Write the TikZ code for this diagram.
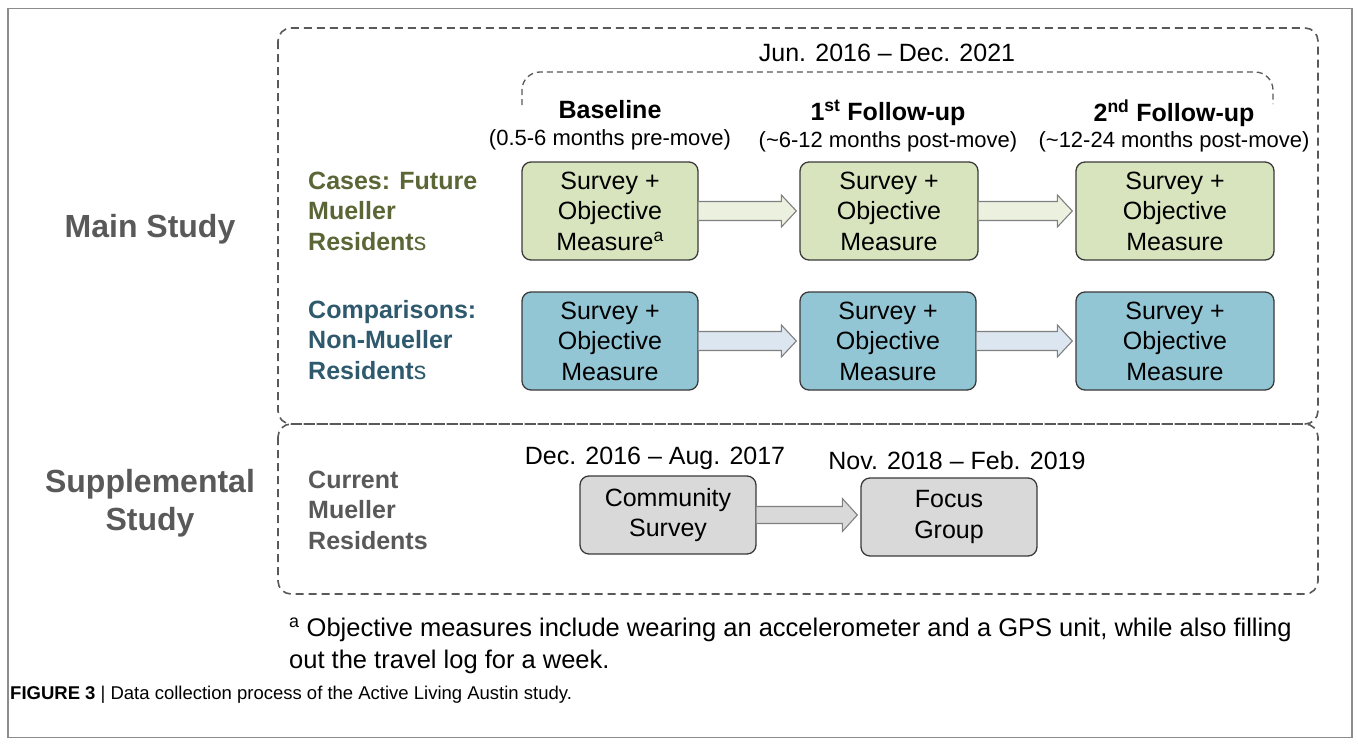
\documentclass[tikz,border=0pt]{standalone}
\usepackage{fontspec}
\setmainfont{Liberation Sans}
\usetikzlibrary{calc}
\definecolor{framegray}{HTML}{8C8C8C}
\definecolor{dashgray}{HTML}{595959}
\definecolor{boxborder}{HTML}{3A3A3A}
\definecolor{greenfill}{HTML}{D7E4BD}
\definecolor{bluefill}{HTML}{93C6D5}
\definecolor{grayfill}{HTML}{D9D9D9}
\definecolor{greenarrow}{HTML}{EBF1DE}
\definecolor{bluearrow}{HTML}{DCE6F0}
\definecolor{grayarrow}{HTML}{D9D9D9}
\definecolor{arrowborder}{HTML}{808080}
\definecolor{olivetext}{HTML}{5A6636}
\definecolor{tealtext}{HTML}{2F5A6E}
\definecolor{graytext}{HTML}{595959}
\newcommand{\blockarr}[5]{%
  \path let \p1=(#1.east), \p2=(#2.west) in
    [fill=#3] (\x1,\y1+#4) -- (\x2-18pt,\y1+#4) -- (\x2-18pt,\y1+#5) -- (\x2-3pt,\y1)
    -- (\x2-18pt,\y1-#5) -- (\x2-18pt,\y1-#4) -- (\x1,\y1-#4) -- cycle;
  \path let \p1=(#1.east), \p2=(#2.west) in
    [draw=arrowborder, line width=1.1pt, line join=miter] (\x1,\y1+#4) -- (\x2-18pt,\y1+#4) -- (\x2-18pt,\y1+#5) -- (\x2-3pt,\y1)
    -- (\x2-18pt,\y1-#5) -- (\x2-18pt,\y1-#4) -- (\x1,\y1-#4);
}
\begin{document}
\begin{tikzpicture}[x=1pt,y=-1pt,
  dashrect/.style={draw=dashgray, line width=1.6pt, dash pattern=on 8pt off 5pt, rounded corners=13pt},
  bracedash/.style={draw=dashgray, line width=1.3pt, dash pattern=on 6pt off 4pt, rounded corners=18pt},
  stagebox/.style={draw=boxborder, line width=1.3pt, rounded corners=9pt, align=center, inner sep=0pt,
    font=\fontsize{25}{30.5}\selectfont, minimum height=98pt},
  gbox/.style={stagebox, fill=greenfill},
  bbox/.style={stagebox, fill=bluefill},
  ybox/.style={stagebox, fill=grayfill, minimum height=78pt, minimum width=176pt},
  rowlabel/.style={anchor=west, align=left, font=\fontsize{25}{30.5}\selectfont\bfseries, inner sep=0pt},
  studylabel/.style={align=center, font=\fontsize{32}{38}\selectfont\bfseries, text=graytext, inner sep=0pt},
  headtxt/.style={font=\fontsize{25}{30}\selectfont\bfseries, inner sep=0pt},
  subtxt/.style={font=\fontsize{22}{26}\selectfont, inner sep=0pt},
  datetxt/.style={font=\fontsize{25}{30}\selectfont, inner sep=0pt}
]
\useasboundingbox (0,0) rectangle (1358,744);
\fill[white] (0,0) rectangle (1358,744);
\draw[framegray, line width=1.2pt] (8,8.5) rectangle (1352,737.5);

% study frames
\draw[dashrect] (278,28) rectangle (1318,424);
\draw[dashrect] (278,424) rectangle (1318,594);

% period brace
\draw[bracedash] (522,105) -- (522,72) -- (1273,72) -- (1273,104);
\node[datetxt] (period) at (887,53) {Jun. 2016 – Dec. 2021};

% study labels
\node[studylabel] (main) at (150,229) {Main Study};
\node[studylabel] (supp) at (150,503) {Supplemental\\Study};

% column headers
\node[headtxt] (h1) at (610,110) {Baseline};
\node[subtxt] (s1) at (610,140) {(0.5-6 months pre-move)};
\node[headtxt] (h2) at (888,113) {1\textsuperscript{st} Follow-up};
\node[subtxt] (s2) at (888,142) {(\textasciitilde6-12 months post-move)};
\node[headtxt] (h3) at (1174,113) {2\textsuperscript{nd} Follow-up};
\node[subtxt] (s3) at (1174,142) {(\textasciitilde12-24 months post-move)};

% row labels
\node[rowlabel, text=olivetext] (l1) at (308,211) {Cases: Future\\Mueller\\Resident{\mdseries s}};
\node[rowlabel, text=tealtext] (l2) at (308,340) {Comparisons:\\Non-Mueller\\Resident{\mdseries s}};
\node[rowlabel, text=graytext] (l3) at (308,510) {Current\\Mueller\\Residents};

% boxes
\node[gbox, minimum width=176pt] (g1) at (610,211) {Survey +\\Objective\\Measure\textsuperscript{a}};
\node[gbox, minimum width=178pt] (g2) at (889,211) {Survey +\\Objective\\Measure};
\node[gbox, minimum width=198pt] (g3) at (1175,211) {Survey +\\Objective\\Measure};
\node[bbox, minimum width=176pt] (b1) at (610,341) {Survey +\\Objective\\Measure};
\node[bbox, minimum width=176pt] (b2) at (888,341) {Survey +\\Objective\\Measure};
\node[bbox, minimum width=198pt] (b3) at (1175,341) {Survey +\\Objective\\Measure};

\node[datetxt] (d1) at (655,458) {Dec. 2016 – Aug. 2017};
\node[datetxt] (d2) at (957,461) {Nov. 2018 – Feb. 2019};
\node[ybox] (c1) at (668,515) {Community\\Survey};
\node[ybox] (c2) at (949,517) {Focus\\Group};

% arrows
\blockarr{g1}{g2}{greenarrow}{9.5pt}{16pt}
\blockarr{g2}{g3}{greenarrow}{9.5pt}{16pt}
\blockarr{b1}{b2}{bluearrow}{9.5pt}{16pt}
\blockarr{b2}{b3}{bluearrow}{9.5pt}{16pt}
\blockarr{c1}{c2}{grayarrow}{8.5pt}{16.5pt}

% footnote
\node[anchor=west, align=left, inner sep=0pt, font=\fontsize{25.5}{32}\selectfont] (fn) at (289,646)
  {\textsuperscript{a} Objective measures include wearing an accelerometer and a GPS unit, while also filling\\out the travel log for a week.};

% caption
\node[anchor=west, inner sep=0pt, font=\fontsize{18.5}{22}\selectfont] (cap) at (10,695)
  {\textbf{FIGURE 3} | Data collection process of the Active Living Austin study.};
\end{tikzpicture}
\end{document}
